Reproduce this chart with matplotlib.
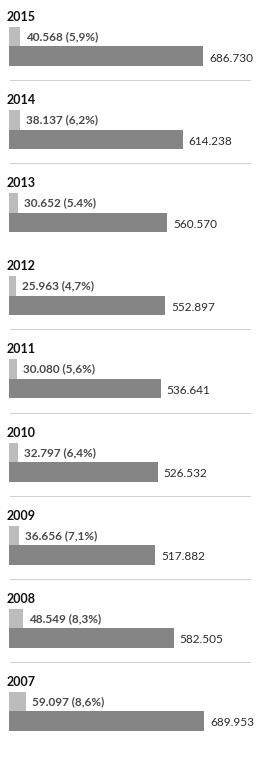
import matplotlib
matplotlib.use("Agg")
import matplotlib.pyplot as plt

years = ["2015", "2014", "2013", "2012", "2011", "2010", "2009", "2008", "2007"]
part_values = [40.568, 38.137, 30.652, 25.963, 30.080, 32.797, 36.656, 48.549, 59.097]
part_labels = ["40.568 (5,9%)", "38.137 (6,2%)", "30.652 (5.4%)", "25.963 (4,7%)",
               "30.080 (5,6%)", "32.797 (6,4%)", "36.656 (7,1%)", "48.549 (8,3%)",
               "59.097 (8,6%)"]
total_values = [686.730, 614.238, 560.570, 552.897, 536.641, 526.532, 517.882, 582.505, 689.953]
total_labels = ["686.730", "614.238", "560.570", "552.897", "536.641", "526.532",
                "517.882", "582.505", "689.953"]

W, H = 265, 757
fig = plt.figure(figsize=(W / 100, H / 100), dpi=100)
fig.patch.set_facecolor("white")
plt.rcParams["font.family"] = ["Lato", "DejaVu Sans"]

left_px = 9
ax_w_px = 256
xmax = 686.730 * ax_w_px / 194.0
pitch = 83.1
first_top = 27
panel_h = 39

for i, yr in enumerate(years):
    top = first_top + pitch * i
    bottom = top + panel_h
    ax = fig.add_axes([left_px / W, 1 - bottom / H, ax_w_px / W, panel_h / H])
    ax.set_xlim(0, xmax)
    ax.set_ylim(-0.5, 1.5)
    ax.barh([1], [part_values[i]], height=1.0, color="#bcbcbc", linewidth=0)
    ax.barh([0], [total_values[i]], height=1.0, color="#858585", linewidth=0)
    ax.text(part_values[i] + 6 * xmax / ax_w_px, 1.0, part_labels[i],
            ha="left", va="center", fontsize=8.5, fontweight="bold", color="#4a4a4a")
    ax.text(total_values[i] + 6 * xmax / ax_w_px, -0.1, total_labels[i],
            ha="left", va="center", fontsize=8.5, color="#2a2a2a")
    ax.axis("off")
    # year label
    fig.text(7 / W, 1 - (top - 10) / H, yr, ha="left", va="center",
             fontsize=9, fontweight="bold", color="#111111")
    # separator line
    if i > 0 and yr != "2012":
        ysep = 1 - (top - 30) / H
        fig.add_artist(plt.Line2D([10 / W, 250 / W], [ysep, ysep],
                                  transform=fig.transFigure, color="#cfcfcf", lw=0.7))

fig.savefig("out.png", dpi=100, facecolor="white")
